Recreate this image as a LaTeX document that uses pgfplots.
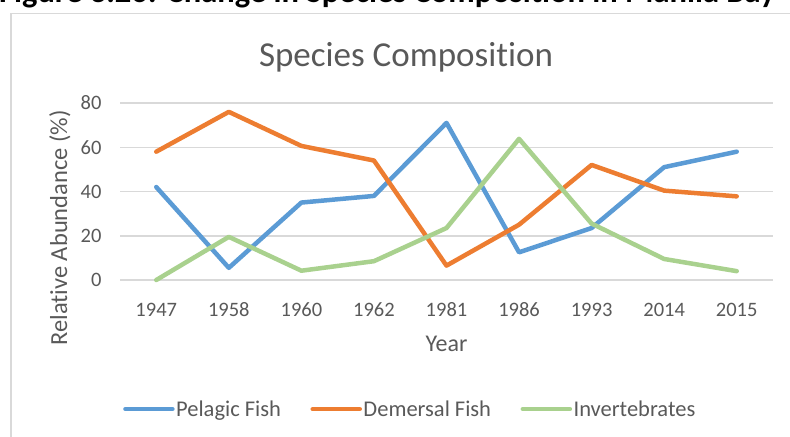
\documentclass[border=0pt]{standalone}
\usepackage{fontspec}
\setmainfont{Carlito}[Ligatures=NoCommon]
\usepackage{pgfplots}
\pgfplotsset{compat=1.18}
\definecolor{cblue}{HTML}{5B9BD5}
\definecolor{corange}{HTML}{ED7D31}
\definecolor{cgreen}{HTML}{A9D18E}
\definecolor{ctext}{HTML}{595959}
\definecolor{cgrid}{HTML}{D9D9D9}
\begin{document}
\begin{tikzpicture}
\path[use as bounding box] (0,0) rectangle (790bp,437bp);
\clip (0,0) rectangle (790bp,437bp);
\node[anchor=base west, inner sep=0pt, font=\bfseries\fontsize{32.5bp}{36bp}\selectfont] at (-1bp,434bp) {Figure 3.26: Change in Species Composition in Manila Bay};
\draw[cgrid, line width=1.5bp] (11bp,-10bp) -- (11bp,423.5bp) -- (800bp,423.5bp);
\begin{axis}[
  at={(120bp,157bp)}, anchor=south west,
  scale only axis, width=653bp, height=177bp,
  xmin=-0.5, xmax=8.5, ymin=0, ymax=80,
  clip=false,
  xtick={0,...,8},
  xticklabels={1947,1958,1960,1962,1981,1986,1993,2014,2015},
  ytick={0,20,40,60,80},
  axis line style={draw=none},
  tick style={draw=none},
  ymajorgrids=true,
  major grid style={cgrid, line width=1.5bp},
  /pgf/number format/assume math mode=true,
  ticklabel style={font=\fontsize{20.5bp}{24bp}\selectfont, text=ctext},
  xticklabel style={anchor=base, yshift=-36bp},
  yticklabel style={xshift=-15bp},
  title={Species Composition},
  title style={at={(axis description cs:0.438,1.175)}, anchor=base, font=\fontsize{35bp}{40bp}\selectfont, text=ctext},
  xlabel={Year},
  xlabel style={at={(axis description cs:0.5,-0.359)}, anchor=center, font=\fontsize{24bp}{28bp}\selectfont, text=ctext},
  ylabel={Relative Abundance (\%)},
  ylabel style={at={(axis description cs:-0.0919,0.294)}, anchor=center, rotate=0, font=\fontsize{24.5bp}{28bp}\selectfont, text=ctext},
  every axis plot/.append style={line width=4.5bp, line join=round, line cap=round},
  legend columns=3,
  legend style={at={(axis description cs:0.0046,-0.729)}, anchor=west, draw=none, fill=none, inner sep=0pt,
    font=\fontsize{22.5bp}{26bp}\selectfont, text=ctext,
    nodes={inner sep=1.5bp},
    /tikz/every even column/.append style={column sep=28bp}},
  legend image code/.code={\draw[#1, line width=4.5bp, line cap=round] (2.5bp,0bp) -- (49.5bp,0bp);},
]
\addplot[cblue] coordinates {(0,42) (1,5.5) (2,35) (3,38) (4,71) (5,12.5) (6,23.5) (7,51) (8,58)};
\addlegendentry{Pelagic Fish}
\addplot[corange] coordinates {(0,58) (1,76) (2,60.6) (3,54) (4,6.5) (5,25) (6,52) (7,40.4) (8,37.8)};
\addlegendentry{Demersal Fish}
\addplot[cgreen] coordinates {(0,0) (1,19.5) (2,4.2) (3,8.5) (4,23.5) (5,63.8) (6,25.5) (7,9.5) (8,4)};
\addlegendentry{Invertebrates}
\end{axis}
\end{tikzpicture}
\end{document}
